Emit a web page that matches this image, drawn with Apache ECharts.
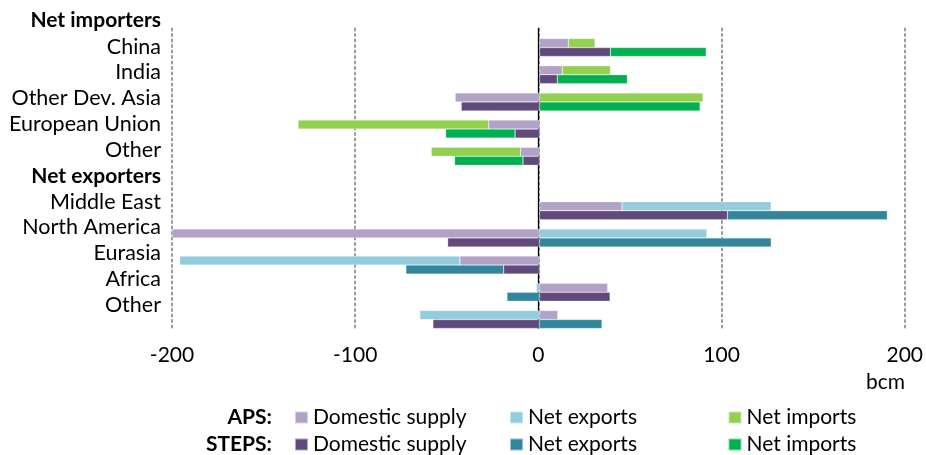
<!DOCTYPE html>
<html>
<head>
<meta charset="utf-8">
<style>
    html, body { margin: 0; padding: 0; background: #fff; }
    #chart { width: 926px; height: 455px; }
</style>
<script src="https://cdn.jsdelivr.net/npm/echarts@6/dist/echarts.min.js"></script>
</head>
<body>
<div id="chart"></div>
<script>
// 类别与数据 (bcm)
var categories = ['Net importers', 'China', 'India', 'Other Dev. Asia', 'European Union', 'Other',
    'Net exporters', 'Middle East', 'North America', 'Eurasia', 'Africa', 'Other'];
var headers = ['Net importers', 'Net exporters'];
var xTicks = [-200, -100, 0, 100, 200];

var apsDomestic = [null, 15.7, 12.4, -45.9, -27.7, -10.3, null, 44.9, -200, -43.3, 37.1, 9.9];
var apsExports = [null, null, null, null, null, null, null, 81.2, 91.1, -152.5, -1.7, -65.1];
var apsImports = [null, 14.5, 26.2, 89, -103.7, -48.6, null, null, null, null, null, null];
var stepsDomestic = [null, 38.6, 9.7, -42.6, -13.3, -9.0, null, 102.3, -50, -19.5, 38.4, -58];
var stepsExports = [null, null, null, null, null, null, null, 87, 126.1, -53.2, -17.7, 34];
var stepsImports = [null, 52.1, 38.1, 87.4, -37.8, -37.2, null, null, null, null, null, null];

(function () {
    var myChart = echarts.init(document.getElementById('chart'));
    var font = 'Lato';
    var keys = categories.map(function (c, i) { return 'c' + i; });

    function bar(name, stack, data, color) {
        return {
            name: name,
            type: 'bar',
            stack: stack,
            data: data,
            xAxisIndex: 0,
            yAxisIndex: 0,
            barWidth: 9,
            barGap: '0%',
            itemStyle: { color: color, borderColor: 'rgba(255,255,255,0.5)', borderWidth: 0.5 }
        };
    }

    // 每个图例单独摆放，保证两行对齐
    var legendCols = [294, 509, 727.5];
    var legendItems = ['Domestic supply', 'Net exports', 'Net imports'];
    var legends = [];
    [['APS', 407], ['STEPS', 434]].forEach(function (row) {
        legendItems.forEach(function (item, j) {
            legends.push({
                left: legendCols[j], top: row[1], padding: 0,
                itemWidth: 13, itemHeight: 12, icon: 'rect',
                data: [row[0] + ' ' + item],
                formatter: function (n) { return n.replace(row[0] + ' ', ''); },
                textStyle: { fontSize: 21, color: '#000', fontFamily: font },
                selectedMode: false
            });
        });
    });

    var xBase = { type: 'value', min: -200, max: 200, interval: 100 };

    var option = {
        animation: false,
        textStyle: { fontFamily: font },
        grid: [
            // 柱子
            { left: 172, right: 19, top: 6.7, bottom: 121.9 },
            // 网格线与刻度
            { left: 172, right: 19, top: 28.5, bottom: 127 },
            // 类别标签
            { left: 172, right: 19, top: 7.8, bottom: 137.1 }
        ],
        xAxis: [
            Object.assign({ gridIndex: 0, show: false }, xBase),
            Object.assign({
                gridIndex: 1,
                axisLine: { show: false },
                axisTick: { show: false },
                axisLabel: {
                    color: '#000', fontSize: 21, fontFamily: font, margin: 17,
                    formatter: function (v) { return xTicks.indexOf(v) >= 0 ? v : ''; }
                },
                splitLine: {
                    show: true,
                    lineStyle: { color: '#9a9a9a', width: 2, type: [2, 3.5], cap: 'round' }
                }
            }, xBase),
            Object.assign({ gridIndex: 2, show: false }, xBase)
        ],
        yAxis: [
            { type: 'category', gridIndex: 0, inverse: true, data: keys, show: false },
            {
                type: 'category', gridIndex: 1, data: [''],
                axisLine: { show: true, onZero: true, lineStyle: { color: '#000', width: 1.3 } },
                axisTick: { show: false },
                axisLabel: { show: false }
            },
            {
                type: 'category', gridIndex: 2, inverse: true, data: keys,
                axisLine: { show: false },
                axisTick: { show: false },
                axisLabel: {
                    interval: 0,
                    margin: 11,
                    fontSize: 21.5,
                    color: '#000',
                    fontFamily: font,
                    formatter: function (v, i) {
                        var t = categories[i];
                        return headers.indexOf(t) >= 0 ? '{b|' + t + '}' : t;
                    },
                    rich: { b: { fontWeight: 'bold', fontSize: 21, fontFamily: font, color: '#000' } }
                }
            }
        ],
        legend: legends,
        graphic: [
            { type: 'text', right: 21, top: 372, style: { text: 'bcm', font: '21px ' + font, fill: '#000' } },
            { type: 'text', right: 654, top: 407, style: { text: 'APS:', font: 'bold 21px ' + font, fill: '#000' } },
            { type: 'text', right: 654, top: 434, style: { text: 'STEPS:', font: 'bold 21px ' + font, fill: '#000' } }
        ],
        series: [
            bar('APS Domestic supply', 'aps', apsDomestic, '#b3a2c7'),
            bar('APS Net exports', 'aps', apsExports, '#93cddd'),
            bar('APS Net imports', 'aps', apsImports, '#92d050'),
            bar('STEPS Domestic supply', 'steps', stepsDomestic, '#604a7b'),
            bar('STEPS Net exports', 'steps', stepsExports, '#31859c'),
            bar('STEPS Net imports', 'steps', stepsImports, '#00b050')
        ]
    };
    myChart.setOption(option);
    window.addEventListener('resize', function () {
        myChart.resize();
    });
})();
</script>
</body>
</html>
